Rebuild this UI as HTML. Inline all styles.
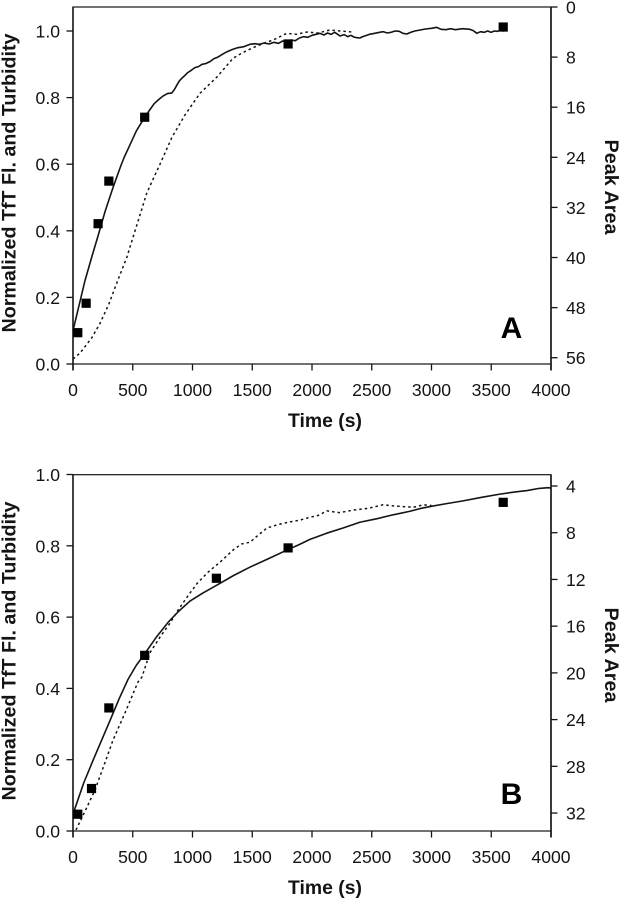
<!DOCTYPE html>
<html lang="en">
<head>
<meta charset="utf-8">
<title>Normalized TfT fluorescence and turbidity kinetics</title>
<style>
html,body{margin:0;padding:0;background:#fff;}
svg{display:block;font-family:"Liberation Sans",Arial,sans-serif;filter:blur(0.3px);}
</style>
</head>
<body>
<svg id="figure" width="620" height="899" viewBox="0 0 620 899" xmlns="http://www.w3.org/2000/svg"></svg>
<script>
const xTickValues = [0, 500, 1000, 1500, 2000, 2500, 3000, 3500, 4000];
const leftTicksA = [0, 0.2, 0.4, 0.6, 0.8, 1.0];
const leftTicksB = [0, 0.2, 0.4, 0.6, 0.8, 1.0];
const rightTicksA = [0, 8, 16, 24, 32, 40, 48, 56];
const rightTicksB = [4, 8, 12, 16, 20, 24, 28, 32];

const solidTimeA = [0, 40, 100, 160, 210, 270, 335, 400, 430, 460, 530, 602, 640, 680, 720, 755, 790, 827, 850, 870, 890, 910, 935, 960, 990, 1020, 1050, 1080, 1110, 1146, 1180, 1210, 1250, 1285, 1330, 1380, 1430, 1480, 1520, 1560, 1600, 1640, 1680, 1720, 1755, 1790, 1825, 1860, 1895, 1930, 1965, 2000, 2035, 2067, 2100, 2130, 2160, 2190, 2215, 2234, 2270, 2300, 2325, 2350, 2375, 2400, 2425, 2450, 2480, 2510, 2550, 2595, 2630, 2660, 2695, 2730, 2760, 2793, 2825, 2860, 2905, 2950, 3000, 3043, 3080, 3120, 3160, 3200, 3260, 3322, 3350, 3380, 3410, 3440, 3470, 3500, 3525, 3547, 3575, 3600, 3630];
const solidValueA = [0.10, 0.16, 0.25, 0.325, 0.385, 0.46, 0.53, 0.595, 0.622, 0.645, 0.70, 0.742, 0.762, 0.782, 0.795, 0.805, 0.812, 0.814, 0.825, 0.838, 0.85, 0.858, 0.866, 0.875, 0.882, 0.89, 0.893, 0.9, 0.902, 0.908, 0.917, 0.921, 0.93, 0.937, 0.944, 0.95, 0.953, 0.96, 0.962, 0.96, 0.964, 0.961, 0.966, 0.963, 0.97, 0.966, 0.973, 0.971, 0.979, 0.983, 0.981, 0.987, 0.99, 0.993, 0.988, 0.994, 0.99, 0.996, 0.99, 0.985, 0.989, 0.983, 0.987, 0.982, 0.98, 0.979, 0.983, 0.986, 0.99, 0.992, 0.995, 0.998, 0.994, 0.996, 1.0, 0.999, 0.993, 0.991, 0.996, 1.0, 1.003, 1.006, 1.008, 1.011, 1.005, 1.004, 1.007, 1.004, 1.007, 1.005, 1.001, 0.993, 0.998, 0.996, 1.0, 0.996, 1.0, 0.999, 1.002, 1.0, 1.008];
const dottedTimeA = [0, 59, 156, 226, 300, 366, 450, 547, 617, 670, 728, 827, 937, 1063, 1205, 1339, 1420, 1506, 1590, 1674, 1790, 1870, 1958, 2050, 2150, 2240, 2335];
const dottedValueA = [0.015, 0.033, 0.078, 0.122, 0.18, 0.243, 0.32, 0.432, 0.513, 0.555, 0.60, 0.68, 0.748, 0.813, 0.862, 0.918, 0.935, 0.95, 0.962, 0.973, 0.993, 0.99, 0.997, 0.994, 1.003, 1.0, 0.997];
const peakTimeA = [40, 110, 210, 300, 600, 1800, 3600];
const peakAreaA = [52.0, 47.3, 34.6, 27.8, 17.6, 5.9, 3.2];

const solidTimeB = [0, 17, 90, 170, 240, 310, 385, 460, 530, 602, 700, 795, 880, 979, 1090, 1205, 1340, 1480, 1630, 1790, 1890, 1983, 2120, 2260, 2400, 2544, 2680, 2820, 2900, 2987, 3120, 3264, 3420, 3573, 3700, 3800, 3900, 3975, 4000];
const solidValueB = [0.045, 0.064, 0.135, 0.20, 0.255, 0.31, 0.37, 0.425, 0.465, 0.498, 0.545, 0.585, 0.615, 0.645, 0.668, 0.69, 0.716, 0.74, 0.763, 0.788, 0.803, 0.818, 0.835, 0.85, 0.866, 0.876, 0.887, 0.897, 0.904, 0.91, 0.918, 0.926, 0.936, 0.945, 0.951, 0.955, 0.961, 0.963, 0.962];
const dottedTimeB = [25, 100, 184, 260, 335, 440, 544, 577, 644, 730, 812, 880, 954, 1040, 1130, 1240, 1339, 1410, 1481, 1550, 1623, 1720, 1816, 1900, 1983, 2050, 2125, 2230, 2343, 2470, 2594, 2680, 2762, 2850, 2929, 3000];
const dottedValueB = [0.003, 0.055, 0.115, 0.185, 0.255, 0.335, 0.418, 0.432, 0.50, 0.545, 0.583, 0.62, 0.656, 0.695, 0.726, 0.757, 0.788, 0.805, 0.81, 0.83, 0.85, 0.86, 0.867, 0.872, 0.88, 0.885, 0.898, 0.893, 0.90, 0.905, 0.915, 0.912, 0.91, 0.908, 0.915, 0.913];
const peakTimeB = [40, 155, 300, 600, 1200, 1800, 3600];
const peakAreaB = [32.1, 29.9, 23.0, 18.5, 11.9, 9.3, 5.4];

const INK = '#141414';
const svg = document.getElementById('figure');

function make(tag, parent, attrs, text) {
  const el = document.createElementNS('http://www.w3.org/2000/svg', tag);
  for (const key in attrs) el.setAttribute(key, attrs[key]);
  if (text !== undefined) el.textContent = text;
  parent.appendChild(el);
  return el;
}

function pathFrom(times, values, x, y) {
  return times.map((t, i) => (i ? 'L' : 'M') + x(t).toFixed(2) + ' ' + y(values[i]).toFixed(2)).join(' ');
}

function drawPanel(p) {
  const g = make('g', svg, {});
  
  

  const x = t => p.left + (t / 4000) * (p.right - p.left);
  const y = v => p.y0 + (v / 0.2) * (p.y02 - p.y0);
  const yR = a => p.r0y + (a - p.r0) * p.rScale;

  const frame = make('rect', g, {x: p.left, y: p.top, width: p.right - p.left, height: p.y0 - p.top, fill: 'none', stroke: INK, 'stroke-width': 1.2});
  
  

  const rightSpine = make('line', g, {x1: p.right, x2: p.right, y1: p.top, y2: p.y0 + 6.5, stroke: INK, 'stroke-width': 1.6});
  
  

  const leftSpine = make('line', g, {x1: p.left, x2: p.left, y1: p.top, y2: p.y0 + 6.5, stroke: INK, 'stroke-width': 1.5});
  
  

  xTickValues.forEach(v => {
    const tick = make('line', g, {x1: x(v), x2: x(v), y1: p.y0, y2: p.y0 + 6.5, stroke: INK, 'stroke-width': 1.3});
    
    
    const label = make('text', g, {x: x(v), y: p.y0 + 32, 'text-anchor': 'middle', 'font-size': 17.6, fill: INK}, String(v));
    
    
  });

  p.leftTicks.forEach(v => {
    const tick = make('line', g, {x1: p.left - 6.5, x2: p.left, y1: y(v), y2: y(v), stroke: INK, 'stroke-width': 1.3});
    
    
    const label = make('text', g, {x: 60, y: y(v) + 6.5, 'text-anchor': 'end', 'font-size': 17.6, fill: INK}, v.toFixed(1));
    
    
  });

  p.rightTicks.forEach(v => {
    const tick = make('line', g, {x1: p.right, x2: p.right + 6.5, y1: yR(v), y2: yR(v), stroke: INK, 'stroke-width': 1.3});
    
    
    const label = make('text', g, {x: 566, y: yR(v) + 6.5, 'text-anchor': 'start', 'font-size': 17.6, fill: INK}, String(v));
    
    
  });

  const dotted = make('path', g, {d: pathFrom(p.dottedTime, p.dottedValue, x, y), fill: 'none', stroke: INK, 'stroke-width': 1.5, 'stroke-dasharray': '2.5 3'});
  
  

  const solid = make('path', g, {d: pathFrom(p.solidTime, p.solidValue, x, y), fill: 'none', stroke: INK, 'stroke-width': 1.6, 'stroke-linejoin': 'round'});
  
  

  p.peakTime.forEach((t, i) => {
    const m = make('rect', g, {x: x(t) - 4.6, y: yR(p.peakArea[i]) - 4.6, width: 9.2, height: 9.2, fill: '#000'});
    
    
  });

  const xTitle = make('text', g, {x: 325, y: p.y0 + 63, 'text-anchor': 'middle', 'font-size': 19.5, 'font-weight': 'bold', fill: INK, textLength: 74, lengthAdjust: 'spacingAndGlyphs'}, 'Time (s)');
  
  

  const yTitle = make('text', g, {transform: 'translate(15.5 ' + p.leftTitleY + ') rotate(-90)', 'text-anchor': 'middle', 'font-size': 19.5, 'font-weight': 'bold', fill: INK, textLength: 299, lengthAdjust: 'spacingAndGlyphs'}, 'Normalized TfT Fl. and Turbidity');
  
  

  const rTitle = make('text', g, {transform: 'translate(605 ' + p.rightTitleY + ') rotate(90)', 'text-anchor': 'middle', 'font-size': 19.5, 'font-weight': 'bold', fill: INK, textLength: 95, lengthAdjust: 'spacingAndGlyphs'}, 'Peak Area');
  
  

  const letter = make('text', g, {x: p.letterX, y: p.letterY, 'text-anchor': 'middle', 'font-size': 30, 'font-weight': 'bold', fill: '#000'}, p.id.toUpperCase());
  
  
}

drawPanel({
  id: 'a', left: 73, right: 551, top: 7, y0: 364, y02: 297.4,
  r0: 0, r0y: 7, rScale: 6.263,
  leftTicks: leftTicksA, rightTicks: rightTicksA,
  solidTime: solidTimeA, solidValue: solidValueA,
  dottedTime: dottedTimeA, dottedValue: dottedValueA,
  peakTime: peakTimeA, peakArea: peakAreaA,
  leftTitleY: 183, rightTitleY: 187, letterX: 511.5, letterY: 338
});

drawPanel({
  id: 'b', left: 73, right: 551, top: 474.7, y0: 831, y02: 759.7,
  r0: 4, r0y: 486, rScale: 11.68,
  leftTicks: leftTicksB, rightTicks: rightTicksB,
  solidTime: solidTimeB, solidValue: solidValueB,
  dottedTime: dottedTimeB, dottedValue: dottedValueB,
  peakTime: peakTimeB, peakArea: peakAreaB,
  leftTitleY: 651, rightTitleY: 655, letterX: 511.5, letterY: 804
});
</script>
</body>
</html>
